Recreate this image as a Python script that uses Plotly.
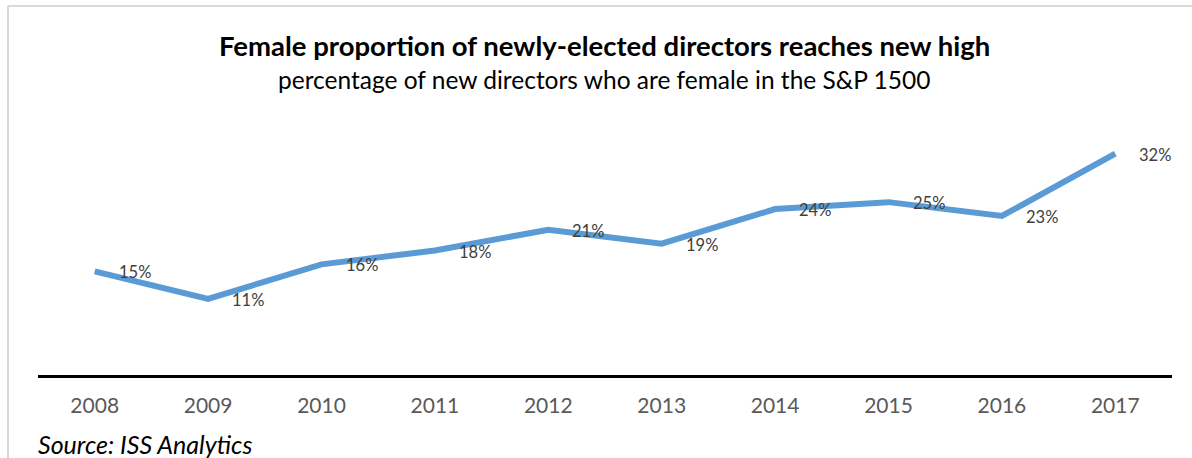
import plotly.graph_objects as go

# Share of newly-elected S&P 1500 directors who are female, by year
years = ["2008", "2009", "2010", "2011", "2012", "2013", "2014", "2015", "2016", "2017"]
female_pct = [15, 11, 16, 18, 21, 19, 24, 25, 23, 32]

title_text = "<b>Female proportion of newly-elected directors reaches new high</b>"
subtitle_text = "percentage of new directors who are female in the S&P 1500"
source_text = "<i>Source: ISS Analytics</i>"

FONT = "Lato"
W, H = 1192, 458
M_L, M_R, M_T, M_B = 38, 20, 133, 83
PLOT_H = H - M_T - M_B
PLOT_W = W - M_L - M_R


def px_to_paper_y(py):
    return (H - M_B - py) / PLOT_H


def px_to_paper_x(px):
    return (px - M_L) / PLOT_W


fig = go.Figure()
fig.add_trace(go.Scatter(
    x=years,
    y=female_pct,
    mode="lines",
    line=dict(color="#5B9BD5", width=6),
    hoverinfo="skip",
))

# Data labels to the right of each point (category index used as x position)
for i, v in enumerate(female_pct):
    fig.add_annotation(
        x=i, y=v, text=f"{v}%", showarrow=False,
        xshift=40, yshift=-1,
        font=dict(family=FONT, size=16.5, color="#404040"),
    )

fig.add_annotation(
    xref="paper", yref="paper", x=px_to_paper_x(604), y=px_to_paper_y(45),
    text=title_text, showarrow=False, xanchor="center", yanchor="middle",
    font=dict(family=FONT, size=27.5, color="#000000"),
)
fig.add_annotation(
    xref="paper", yref="paper", x=px_to_paper_x(604), y=px_to_paper_y(80),
    text=subtitle_text, showarrow=False, xanchor="center", yanchor="middle",
    font=dict(family=FONT, size=24.5, color="#000000"),
)
fig.add_annotation(
    xref="paper", yref="paper", x=px_to_paper_x(36), y=px_to_paper_y(444),
    text=source_text, showarrow=False, xanchor="left", yanchor="middle",
    font=dict(family=FONT, size=25, color="#000000"),
)

# Light frame along the top and left edges
frame = dict(color="#D9D9D9", width=2)
fig.add_shape(type="line", xref="paper", yref="paper",
              x0=px_to_paper_x(8), x1=px_to_paper_x(W + 5),
              y0=px_to_paper_y(6), y1=px_to_paper_y(6), line=frame)
fig.add_shape(type="line", xref="paper", yref="paper",
              x0=px_to_paper_x(8), x1=px_to_paper_x(8),
              y0=px_to_paper_y(6), y1=px_to_paper_y(H + 5), line=frame)

fig.update_layout(
    width=W, height=H,
    margin=dict(l=M_L, r=M_R, t=M_T, b=M_B),
    paper_bgcolor="white", plot_bgcolor="white",
    showlegend=False,
    xaxis=dict(
        type="category", range=[-0.5, 9.5],
        showline=True, linecolor="#000000", linewidth=3,
        showgrid=False, ticks="", ticklabelstandoff=10,
        tickfont=dict(family=FONT, size=21, color="#595959"),
        fixedrange=True,
    ),
    yaxis=dict(
        range=[0, 35], showgrid=False, zeroline=False,
        showticklabels=False, showline=False, fixedrange=True,
    ),
)

fig.write_html("out.html")
